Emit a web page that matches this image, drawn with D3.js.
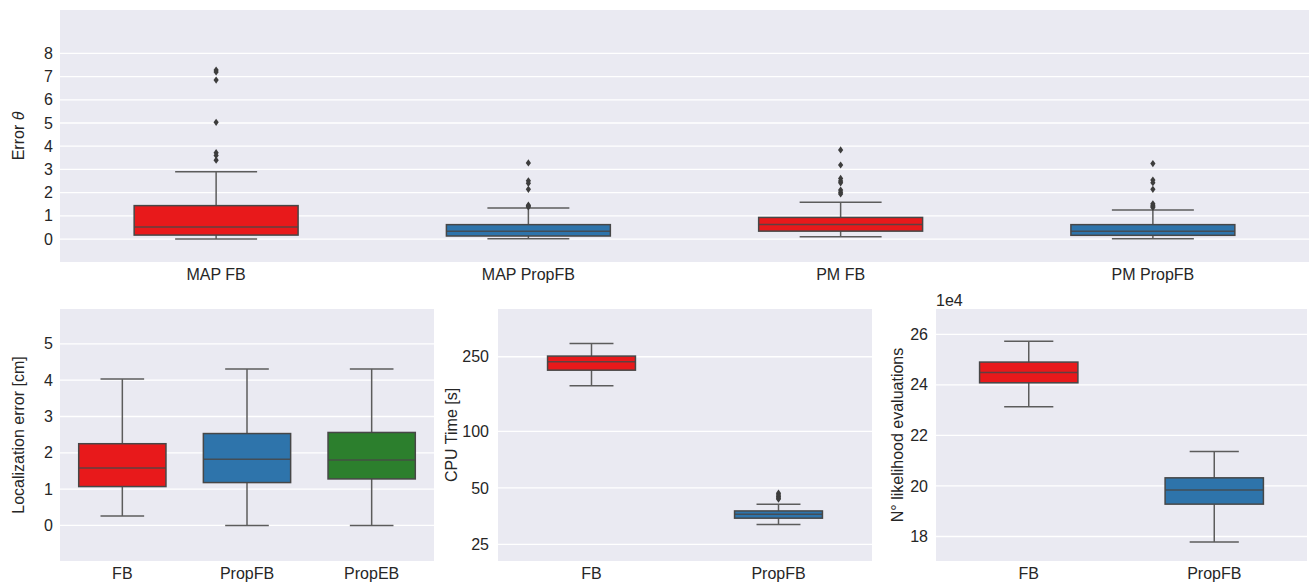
<!DOCTYPE html>
<html>
<head>
<meta charset="utf-8">
<script src="https://cdn.jsdelivr.net/npm/d3@7"></script>
<style>
  html, body { margin: 0; padding: 0; background: #ffffff; }
  svg { display: block; font-family: "Liberation Sans", Arial, sans-serif; }
</style>
</head>
<body>
<svg id="chart" width="1311" height="586"></svg>
<script>
// ---------- DATA ----------
// Top panel: Error theta
const topCategories = ["MAP FB", "MAP PropFB", "PM FB", "PM PropFB"];
const topWhiskerLow  = [0.0, 0.01, 0.10, 0.01];
const topQ1          = [0.17, 0.13, 0.34, 0.16];
const topMedian      = [0.52, 0.34, 0.63, 0.34];
const topQ3          = [1.44, 0.62, 0.93, 0.62];
const topWhiskerHigh = [2.90, 1.34, 1.59, 1.25];
const topOutliers = [
  [7.28, 7.20, 6.85, 5.03, 3.72, 3.60, 3.40],
  [3.28, 2.51, 2.40, 2.14, 1.46, 1.42, 1.38],
  [3.84, 3.19, 2.61, 2.50, 2.42, 2.11, 2.02, 1.94],
  [3.25, 2.54, 2.43, 2.14, 1.52, 1.46, 1.40, 1.36]
];
const topTicks = [0, 1, 2, 3, 4, 5, 6, 7, 8];

// Bottom-left: Localization error [cm]
const locCategories = ["FB", "PropFB", "PropEB"];
const locWhiskerLow  = [0.26, 0.0, 0.0];
const locQ1          = [1.07, 1.18, 1.28];
const locMedian      = [1.58, 1.82, 1.80];
const locQ3          = [2.25, 2.53, 2.56];
const locWhiskerHigh = [4.03, 4.31, 4.31];
const locOutliers = [[], [], []];
const locTicks = [0, 1, 2, 3, 4, 5];

// Bottom-middle: CPU Time [s] (log scale)
const cpuCategories = ["FB", "PropFB"];
const cpuWhiskerLow  = [175, 31.9];
const cpuQ1          = [212, 34.5];
const cpuMedian      = [235, 36.2];
const cpuQ3          = [252, 37.7];
const cpuWhiskerHigh = [294, 40.9];
const cpuOutliers = [[], [46.9, 45.9, 45.0, 44.2, 43.6]];
const cpuTicks = [25, 50, 100, 250];

// Bottom-right: N° likelihood evaluations (x 1e4)
const evalCategories = ["FB", "PropFB"];
const evalWhiskerLow  = [23.13, 17.78];
const evalQ1          = [24.08, 19.28];
const evalMedian      = [24.49, 19.84];
const evalQ3          = [24.90, 20.32];
const evalWhiskerHigh = [25.72, 21.36];
const evalOutliers = [[], []];
const evalTicks = [18, 20, 22, 24, 26];

// Colours
const RED = "#e8191b", BLUE = "#2e74ab", GREEN = "#2c7f2d";
const topColors  = [RED, BLUE, RED, BLUE];
const locColors  = [RED, BLUE, GREEN];
const cpuColors  = [RED, BLUE];
const evalColors = [RED, BLUE];

// ---------- DRAWING ----------
const svg = d3.select("#chart");
const BG = "#eaeaf2", EDGE = "#474747", WHISK = "#5c5c5c", TXT = "#262626";

function drawPanel(cfg) {
  const g = svg.append("g");
  const x = d3.scaleBand().domain(cfg.categories).range([cfg.x0, cfg.x1]).paddingInner(0).paddingOuter(0);
  const y = (cfg.log ? d3.scaleLog() : d3.scaleLinear()).domain(cfg.domain).range([cfg.y1, cfg.y0]);

  g.append("rect").attr("x", cfg.x0).attr("y", cfg.y0)
    .attr("width", cfg.x1 - cfg.x0).attr("height", cfg.y1 - cfg.y0).attr("fill", BG);

  // gridlines
  g.selectAll("line.grid").data(cfg.ticks).join("line")
    .attr("x1", cfg.x0).attr("x2", cfg.x1)
    .attr("y1", d => y(d)).attr("y2", d => y(d))
    .attr("stroke", "#ffffff").attr("stroke-width", 1.3);

  // y axis (labels only)
  const yAxis = d3.axisLeft(y).tickValues(cfg.ticks).tickSize(0).tickPadding(0)
    .tickFormat(cfg.tickFormat || d3.format("d"));
  const ya = g.append("g").attr("transform", `translate(${cfg.labelRight},0)`).call(yAxis);
  ya.select(".domain").remove();
  ya.selectAll("text").attr("font-size", 16).attr("fill", TXT)
    .attr("font-family", '"Liberation Sans", Arial, sans-serif');

  // x axis (labels only)
  const xAxis = d3.axisBottom(x).tickSize(0).tickPadding(0);
  const xa = g.append("g").attr("transform", `translate(0,${cfg.y1 + 7})`).call(xAxis);
  xa.select(".domain").remove();
  xa.selectAll("text").attr("font-size", 16).attr("fill", TXT)
    .attr("font-family", '"Liberation Sans", Arial, sans-serif');

  // boxes
  const bw = x.bandwidth() * cfg.boxFrac;
  cfg.categories.forEach((c, i) => {
    const cx = x(c) + x.bandwidth() / 2;
    const bx = g.append("g");
    // whiskers
    bx.append("line").attr("x1", cx).attr("x2", cx)
      .attr("y1", y(cfg.q3[i])).attr("y2", y(cfg.whiHigh[i]))
      .attr("stroke", WHISK).attr("stroke-width", 1.5);
    bx.append("line").attr("x1", cx).attr("x2", cx)
      .attr("y1", y(cfg.q1[i])).attr("y2", y(cfg.whiLow[i]))
      .attr("stroke", WHISK).attr("stroke-width", 1.5);
    // caps
    [cfg.whiHigh[i], cfg.whiLow[i]].forEach(v => {
      bx.append("line").attr("x1", cx - bw / 4).attr("x2", cx + bw / 4)
        .attr("y1", y(v)).attr("y2", y(v))
        .attr("stroke", WHISK).attr("stroke-width", 1.5);
    });
    // box
    bx.append("rect").attr("x", cx - bw / 2).attr("width", bw)
      .attr("y", y(cfg.q3[i])).attr("height", y(cfg.q1[i]) - y(cfg.q3[i]))
      .attr("fill", cfg.colors[i]).attr("stroke", EDGE).attr("stroke-width", 1.5);
    // median
    bx.append("line").attr("x1", cx - bw / 2).attr("x2", cx + bw / 2)
      .attr("y1", y(cfg.med[i])).attr("y2", y(cfg.med[i]))
      .attr("stroke", EDGE).attr("stroke-width", 1.5).attr("stroke-opacity", 0.85);
    // outliers (thin diamonds)
    bx.selectAll("path.out").data(cfg.outliers[i]).join("path")
      .attr("d", d => `M${cx},${y(d) - 3.6}L${cx + 2.6},${y(d)}L${cx},${y(d) + 3.6}L${cx - 2.6},${y(d)}Z`)
      .attr("fill", "#3d3d3d");
  });

  // y label
  g.append("text")
    .attr("transform", `translate(${cfg.ylabelX},${(cfg.y0 + cfg.y1) / 2}) rotate(-90)`)
    .attr("text-anchor", "middle").attr("dominant-baseline", "central")
    .attr("font-size", 16).attr("fill", TXT)
    .call(t => {
      if (cfg.ylabelHtml) cfg.ylabelHtml(t); else t.text(cfg.ylabel);
    });
  return { x, y, g };
}

drawPanel({
  categories: topCategories, colors: topColors,
  whiLow: topWhiskerLow, q1: topQ1, med: topMedian, q3: topQ3, whiHigh: topWhiskerHigh, outliers: topOutliers,
  ticks: topTicks, domain: [-0.99, 9.87],
  x0: 60, x1: 1309, y0: 10, y1: 262, boxFrac: 0.525, labelRight: 53, ylabelX: 18,
  ylabelHtml: t => { t.append("tspan").text("Error "); t.append("tspan").attr("font-style", "italic").text("θ"); }
});

drawPanel({
  categories: locCategories, colors: locColors,
  whiLow: locWhiskerLow, q1: locQ1, med: locMedian, q3: locQ3, whiHigh: locWhiskerHigh, outliers: locOutliers,
  ticks: locTicks, domain: [-0.98, 5.96],
  x0: 60, x1: 434, y0: 309, y1: 561, boxFrac: 0.70, labelRight: 53, ylabelX: 18,
  ylabel: "Localization error [cm]"
});

drawPanel({
  categories: cpuCategories, colors: cpuColors,
  whiLow: cpuWhiskerLow, q1: cpuQ1, med: cpuMedian, q3: cpuQ3, whiHigh: cpuWhiskerHigh, outliers: cpuOutliers,
  ticks: cpuTicks, domain: [20.4, 449], log: true,
  x0: 498, x1: 872, y0: 309, y1: 561, boxFrac: 0.47, labelRight: 489, ylabelX: 451,
  ylabel: "CPU Time [s]"
});

drawPanel({
  categories: evalCategories, colors: evalColors,
  whiLow: evalWhiskerLow, q1: evalQ1, med: evalMedian, q3: evalQ3, whiHigh: evalWhiskerHigh, outliers: evalOutliers,
  ticks: evalTicks, domain: [17.03, 27.0],
  x0: 936, x1: 1307, y0: 309, y1: 561, boxFrac: 0.53, labelRight: 928, ylabelX: 897,
  ylabel: "N° likelihood evaluations"
});

svg.append("text").attr("x", 936).attr("y", 306).attr("font-size", 16).attr("fill", TXT).text("1e4");
</script>
</body>
</html>
